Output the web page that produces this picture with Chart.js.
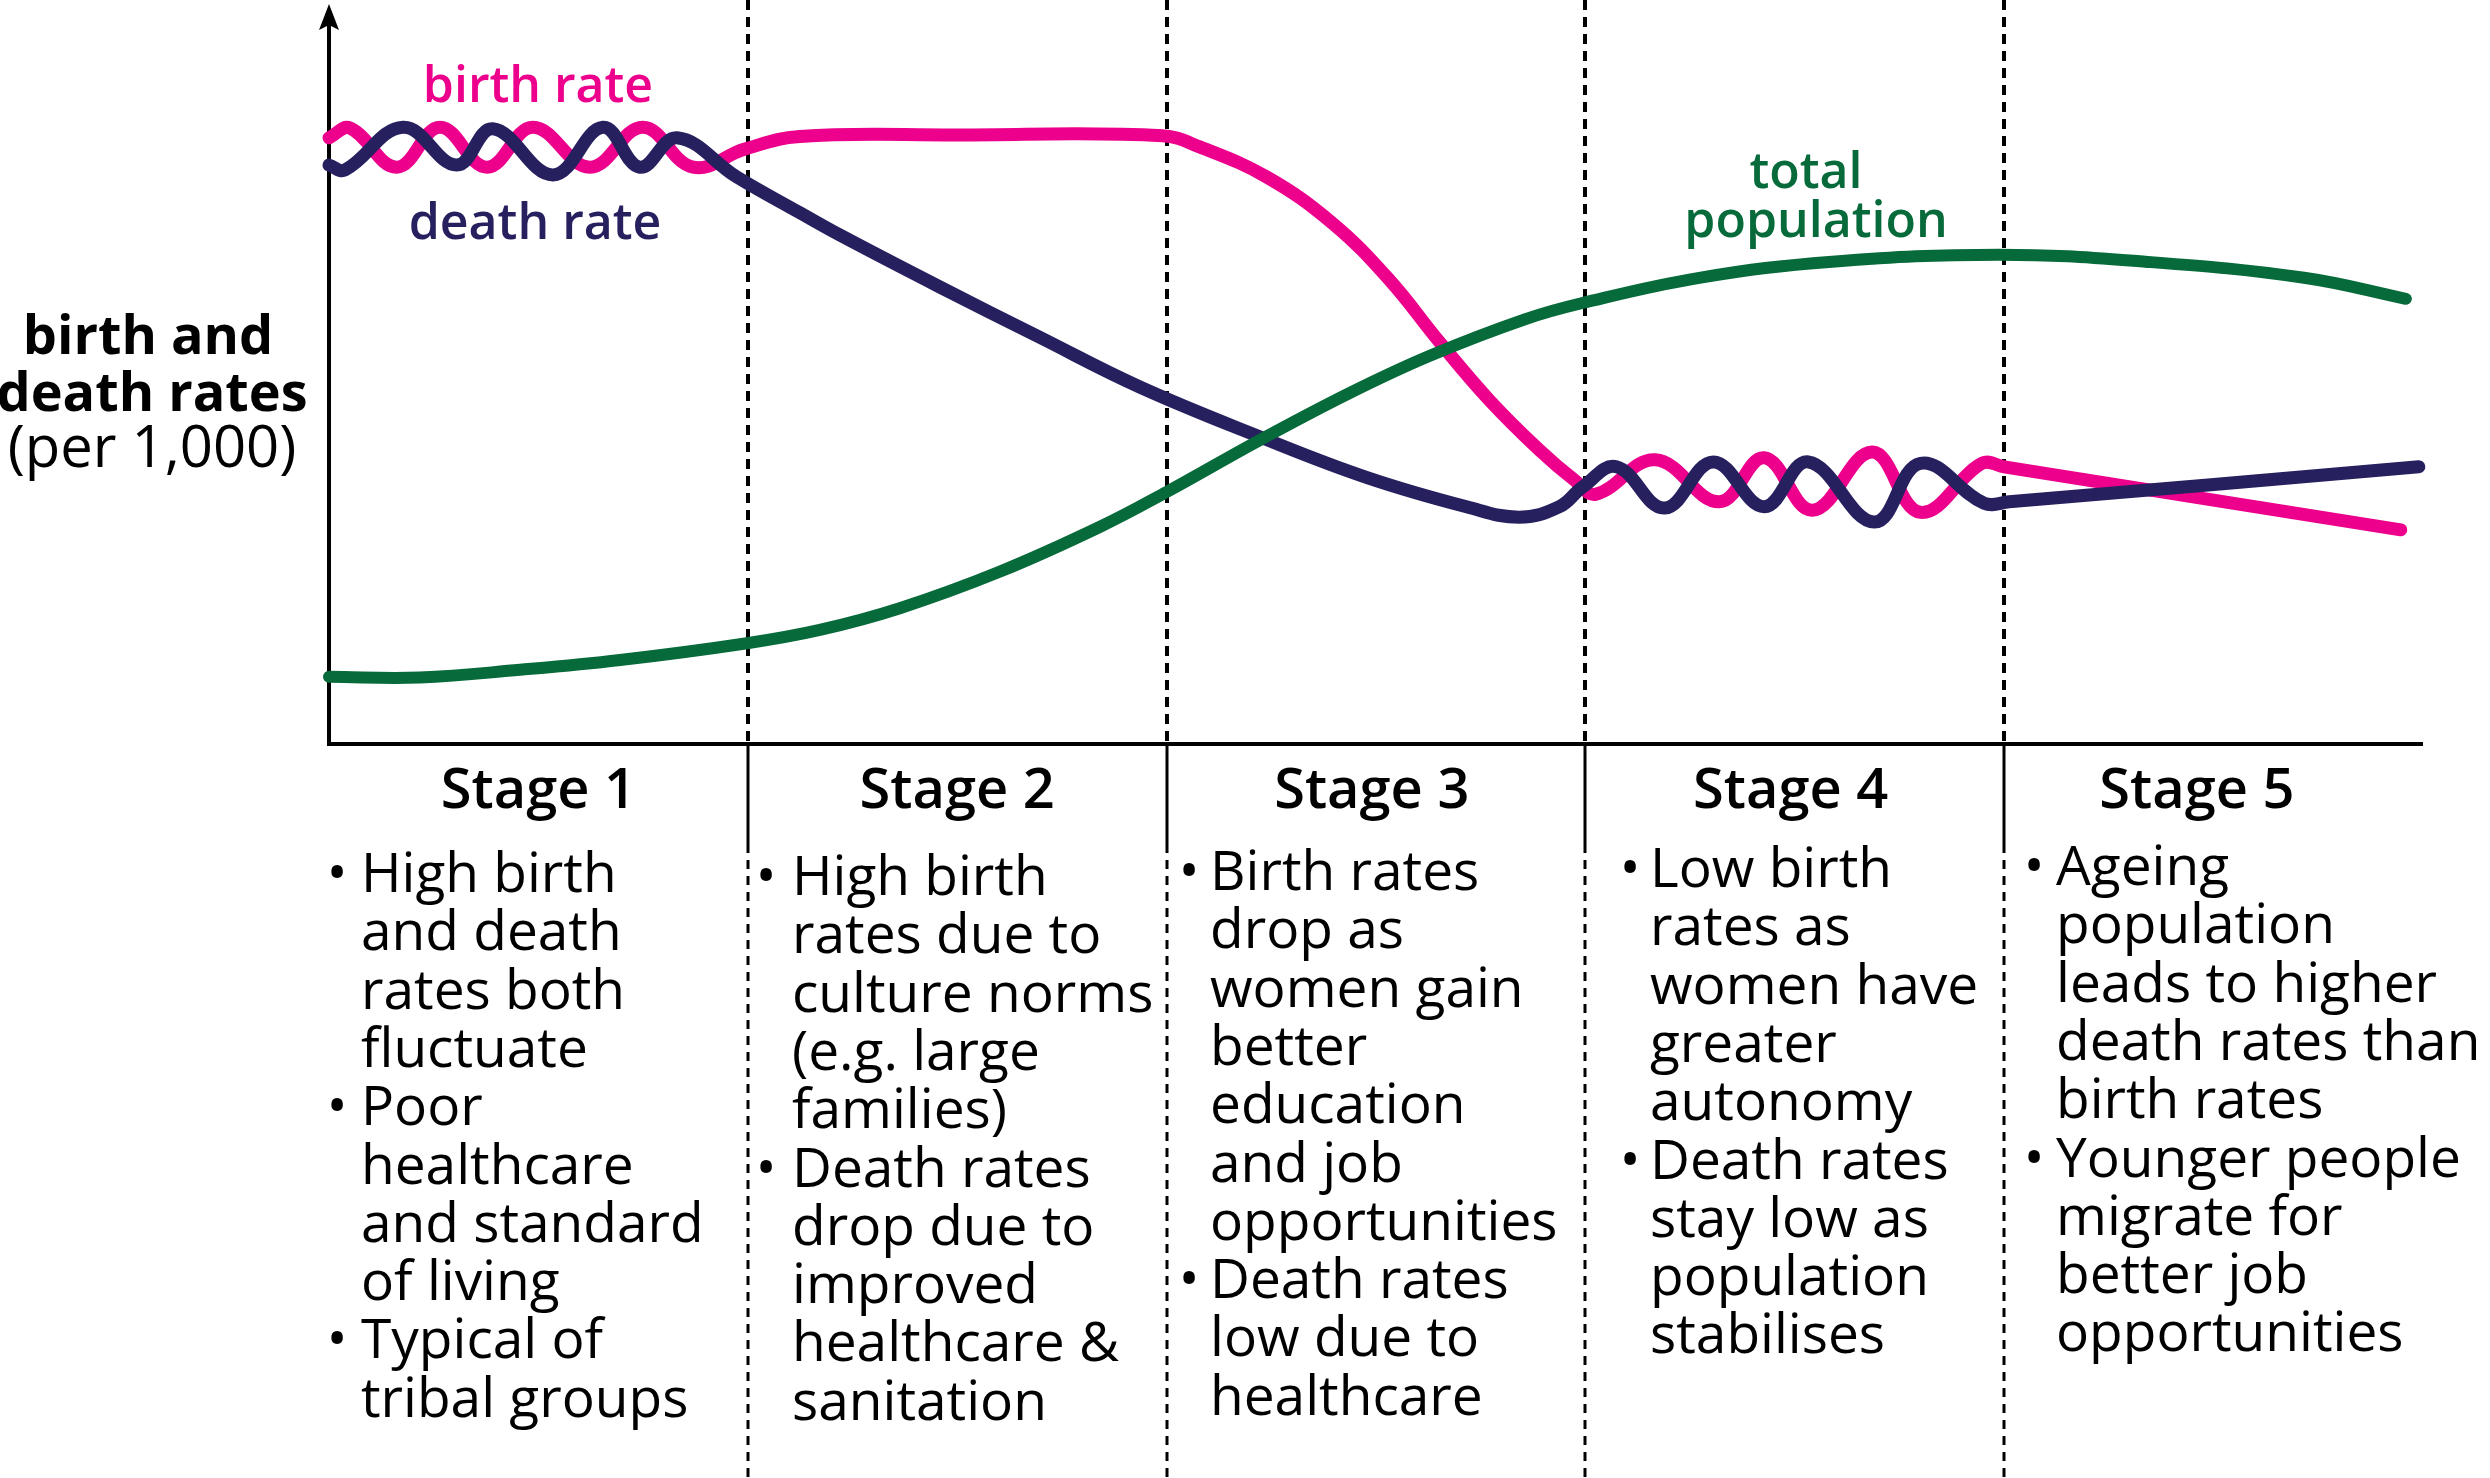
<!DOCTYPE html>
<html>
<head>
    <meta charset="UTF-8">
    <title>Demographic Transition Model</title>
    <script src="https://cdn.jsdelivr.net/npm/chart.js"></script>
    <style>
        html, body { margin: 0; padding: 0; background: #fff; }
        #wrap { width: 2490px; height: 1478px; }
        canvas { display: block; }
    </style>
</head>
<body>
<div id="wrap"><canvas id="dtmChart" width="2490" height="1478"></canvas></div>
<script>
    // Stage boundaries (x is measured in stages, 0..5)
    const stageLines = [1, 2, 3, 4];
    const stageNames = ['Stage 1', 'Stage 2', 'Stage 3', 'Stage 4', 'Stage 5'];
    const stageNotes = [
        [['High birth', 'and death', 'rates both', 'fluctuate'], ['Poor', 'healthcare', 'and standard', 'of living'], ['Typical of', 'tribal groups']],
        [['High birth', 'rates due to', 'culture norms', '(e.g. large', 'families)'], ['Death rates', 'drop due to', 'improved', 'healthcare &', 'sanitation']],
        [['Birth rates', 'drop as', 'women gain', 'better', 'education', 'and job', 'opportunities'], ['Death rates', 'low due to', 'healthcare']],
        [['Low birth', 'rates as', 'women have', 'greater', 'autonomy'], ['Death rates', 'stay low as', 'population', 'stabilises']],
        [['Ageing', 'population', 'leads to higher', 'death rates than', 'birth rates'], ['Younger people', 'migrate for', 'better job', 'opportunities']]
    ];

    // birth rate (relative scale 0..100)
    const birthX = [0, 0.05, 0.162, 0.265, 0.377, 0.487, 0.623, 0.749, 0.869, 0.993, 1.124, 1.5, 1.99, 2.079, 2.239, 2.396, 2.532, 2.652, 2.771, 2.89, 2.974, 3.026, 3.167, 3.32, 3.427, 3.542, 3.685, 3.8, 3.947, 4.0, 4.947];
    const birthY = [86.6, 88.0, 82.4, 88.1, 82.4, 88.1, 82.4, 88.1, 82.4, 85.0, 86.8, 87.0, 86.9, 85.3, 81.0, 74.4, 66.3, 57.4, 49.1, 42.0, 37.7, 35.7, 40.6, 34.6, 40.9, 33.4, 41.7, 33.1, 40.1, 39.6, 30.6];

    // death rate
    const deathX = [0, 0.038, 0.177, 0.305, 0.391, 0.535, 0.654, 0.742, 0.831, 0.974, 1.124, 1.22, 1.458, 1.697, 1.936, 2.222, 2.477, 2.716, 2.842, 2.938, 2.993, 3.074, 3.189, 3.305, 3.427, 3.532, 3.69, 3.8, 3.952, 4.012, 4.99];
    const deathY = [82.7, 82.0, 88.1, 82.7, 87.9, 81.3, 88.1, 82.4, 86.6, 81.0, 75.9, 72.7, 65.3, 58.1, 51.0, 43.9, 38.1, 33.9, 32.4, 33.9, 36.7, 39.6, 33.7, 40.3, 33.9, 40.3, 31.7, 40.1, 34.4, 34.6, 39.6];

    // total population
    const popX = [0, 0.217, 0.456, 0.695, 0.998, 1.172, 1.363, 1.601, 1.84, 2.0, 2.222, 2.439, 2.63, 2.857, 2.993, 3.272, 3.589, 3.988, 4.337, 4.716, 4.959];
    const popY = [9.6, 9.5, 10.6, 12.0, 14.4, 16.3, 19.4, 24.6, 31.0, 36.0, 43.4, 50.2, 55.5, 60.7, 63.0, 66.6, 68.9, 69.9, 68.9, 66.6, 63.6];

    const zip = (xs, ys) => xs.map((x, i) => ({ x: x, y: ys[i] }));

    const PINK = '#EC008C';
    const NAVY = '#27205F';
    const GREEN = '#076A3A';
    const FONT = '"Open Sans", "Noto Sans", sans-serif';

    // axes, dashed stage dividers and all the text around the plot
    const frame = {
        id: 'frame',
        beforeDraw(chart) {
            const ctx = chart.ctx;
            ctx.save();
            ctx.fillStyle = '#fff';
            ctx.fillRect(0, 0, chart.width, chart.height);
            ctx.restore();
        },
        beforeDatasetsDraw(chart) {
            const { ctx, chartArea: a, scales: { x } } = chart;
            ctx.save();
            ctx.strokeStyle = '#000';
            ctx.fillStyle = '#000';
            stageLines.forEach(v => {
                const px = Math.round(x.getPixelForValue(v));
                ctx.lineWidth = 4;
                ctx.setLineDash([10, 7]);
                ctx.beginPath(); ctx.moveTo(px, 0); ctx.lineTo(px, a.bottom); ctx.stroke();
                ctx.setLineDash([]);
                ctx.lineWidth = 3;
                ctx.beginPath(); ctx.moveTo(px, a.bottom); ctx.lineTo(px, a.bottom + 100); ctx.stroke();
                ctx.setLineDash([9, 7]);
                ctx.beginPath(); ctx.moveTo(px, a.bottom + 100); ctx.lineTo(px, chart.height); ctx.stroke();
            });
            ctx.setLineDash([]);
            ctx.lineWidth = 4;
            ctx.beginPath();
            ctx.moveTo(a.left, 22);
            ctx.lineTo(a.left, a.bottom);
            ctx.lineTo(a.right, a.bottom);
            ctx.stroke();
            // arrow head on the y axis
            ctx.beginPath();
            ctx.moveTo(a.left, 4);
            ctx.lineTo(a.left - 10, 30);
            ctx.lineTo(a.left, 25);
            ctx.lineTo(a.left + 10, 30);
            ctx.closePath();
            ctx.fill();
            ctx.restore();
        },
        afterDraw(chart) {
            const { ctx, scales: { x } } = chart;
            ctx.save();
            ctx.textBaseline = 'alphabetic';

            // y axis title
            ctx.fillStyle = '#000';
            ctx.textAlign = 'center';
            ctx.font = '700 54px ' + FONT;
            ctx.fillText('birth and', 148, 354);
            ctx.fillText('death rates', 152, 411);
            ctx.font = '400 58px ' + FONT;
            ctx.fillText('(per 1,000)', 152, 467);

            // series labels
            ctx.font = '600 50px ' + FONT;
            ctx.fillStyle = PINK;
            ctx.fillText('birth rate', 538, 102);
            ctx.fillStyle = NAVY;
            ctx.fillText('death rate', 535, 239);
            ctx.fillStyle = GREEN;
            ctx.fillText('total', 1806, 188);
            ctx.fillText('population', 1816, 237);

            // stage titles
            const titleX = [0.5, 1.5, 2.49, 3.49, 4.46];
            ctx.fillStyle = '#000';
            ctx.font = '600 56px ' + FONT;
            stageNames.forEach((s, i) => ctx.fillText(s, x.getPixelForValue(titleX[i]), 808));

            // bullet notes
            const bulletX = [337, 766, 1189, 1630, 2034];
            const textX = [361, 792, 1210, 1650, 2056];
            const firstY = [892, 895, 890, 887, 885];
            const lineH = 58.3;
            ctx.font = '400 55px ' + FONT;
            stageNotes.forEach((bullets, i) => {
                let row = 0;
                bullets.forEach(lines => {
                    lines.forEach((t, j) => {
                        const y = firstY[i] + row * lineH;
                        if (j === 0) {
                            ctx.textAlign = 'center';
                            ctx.fillText('\u2022', bulletX[i], y);
                        }
                        ctx.textAlign = 'left';
                        ctx.fillText(t, textX[i], y);
                        row++;
                    });
                });
            });
            ctx.restore();
        }
    };

    const lineStyle = {
        pointRadius: 0,
        borderWidth: 13,
        borderCapStyle: 'round',
        borderJoinStyle: 'round',
        tension: 0.4,
        fill: false,
        clip: false
    };

    new Chart(document.getElementById('dtmChart').getContext('2d'), {
        type: 'line',
        data: {
            datasets: [
                Object.assign({ label: 'total population', data: zip(popX, popY), borderColor: GREEN }, lineStyle, { borderWidth: 12 }),
                Object.assign({ label: 'death rate', data: zip(deathX, deathY), borderColor: NAVY }, lineStyle),
                Object.assign({ label: 'birth rate', data: zip(birthX, birthY), borderColor: PINK }, lineStyle)
            ]
        },
        options: {
            responsive: false,
            devicePixelRatio: 1,
            animation: false,
            layout: { padding: { left: 329, right: 67, top: 44, bottom: 734 } },
            plugins: { legend: { display: false }, tooltip: { enabled: false } },
            scales: {
                x: { type: 'linear', min: 0, max: 5, display: false },
                y: { type: 'linear', min: 0, max: 100, display: false }
            }
        },
        plugins: [frame]
    });
</script>
</body>
</html>
